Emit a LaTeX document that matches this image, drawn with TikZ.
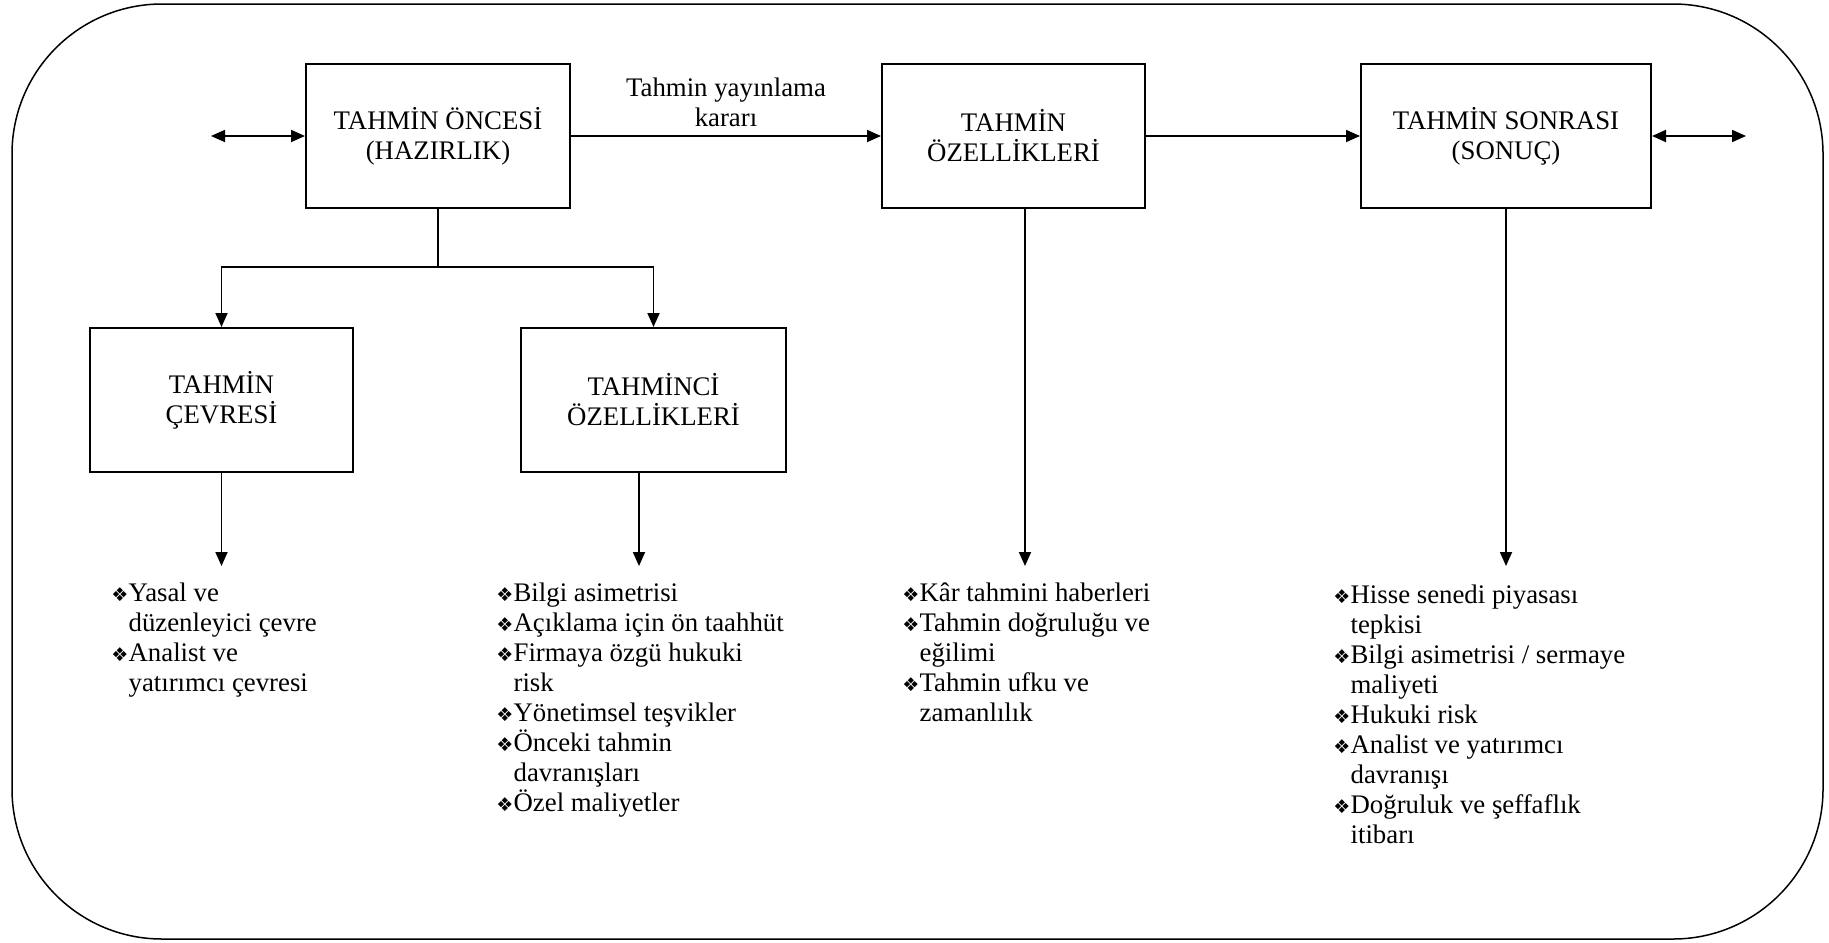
\documentclass[tikz,border=0pt]{standalone}
\usepackage{fontspec}
\setmainfont{Liberation Serif}
\newfontfamily\dejavu{DejaVu Sans}
\usetikzlibrary{arrows.meta}
\newlength{\bw}\setlength{\bw}{8.6pt}
\newcommand{\bl}{\makebox[\bw][l]{\dejavu\fontsize{9.5}{9.5}\selectfont ❖}}
\newcommand{\cl}{\hspace*{\bw}}
\begin{document}
\begin{tikzpicture}[x=0.5pt,y=-0.5pt,font=\fontsize{13.4}{15}\selectfont,
  box/.style={draw,line width=1pt,align=center,inner sep=0,minimum height=72pt},
  arr/.style={line width=0.9pt,-{Triangle[length=7pt,width=6pt]}},
  dbl/.style={line width=0.9pt,{Triangle[length=7pt,width=6pt]}-{Triangle[length=7pt,width=6pt]}},
  lnk/.style={line width=0.9pt},
  lst/.style={anchor=north west,align=left,inner sep=0}]
\useasboundingbox (0,0) rectangle (1829,942);
\draw[line width=0.75pt,rounded corners=75pt] (12,4) rectangle (1823,939);

\node[box,minimum width=132pt] (b1) at (438,136) {TAHMİN ÖNCESİ\\(HAZIRLIK)};
\node[box,minimum width=131.5pt] (b2) at (1013.5,136) {TAHMİN\\ÖZELLİKLERİ};
\node[box,minimum width=145pt] (b3) at (1506,136) {TAHMİN SONRASI\\(SONUÇ)};
\node[box,minimum width=131.5pt] (b4) at (221.5,400) {TAHMİN\\ÇEVRESİ};
\node[box,minimum width=132.5pt] (b5) at (653.5,400) {TAHMİNCİ\\ÖZELLİKLERİ};

\coordinate (lft) at (211,136);
\coordinate (rgt) at (1746,136);
\draw[dbl] (lft) -- (b1.west);
\draw[dbl] (b3.east) -- (rgt);
\draw[arr] (b1.east) -- node[above=1pt,align=center] {Tahmin yayınlama\\kararı} (b2.west);
\draw[arr] (b2.east) -- (b3.west);

\coordinate (j) at (438,267);
\draw[lnk] (b1.south) -- (j);
\draw[arr] (j) -| (b4.north);
\draw[arr] (j) -| (b5.north);

\coordinate (e4) at (221.5,566);
\coordinate (e5) at (639,566);
\coordinate (e2) at (1025,566);
\coordinate (e3) at (1506,566);
\draw[arr] (e4 |- b4.south) -- (e4);
\draw[arr] (e5 |- b5.south) -- (e5);
\draw[arr] (e2 |- b2.south) -- (e2);
\draw[arr] (e3 |- b3.south) -- (e3);

\node[lst] (l1) at (111,582) {\bl Yasal ve\\\cl düzenleyici çevre\\\bl Analist ve\\\cl yatırımcı çevresi};
\node[lst] (l2) at (496,582) {\bl Bilgi asimetrisi\\\bl Açıklama için ön taahhüt\\\bl Firmaya özgü hukuki\\\cl risk\\\bl Yönetimsel teşvikler\\\bl Önceki tahmin\\\cl davranışları\\\bl Özel maliyetler};
\node[lst] (l3) at (902,582) {\bl Kâr tahmini haberleri\\\bl Tahmin doğruluğu ve\\\cl eğilimi\\\bl Tahmin ufku ve\\\cl zamanlılık};
\node[lst] (l4) at (1333,584) {\bl Hisse senedi piyasası\\\cl tepkisi\\\bl Bilgi asimetrisi / sermaye\\\cl maliyeti\\\bl Hukuki risk\\\bl Analist ve yatırımcı\\\cl davranışı\\\bl Doğruluk ve şeffaflık\\\cl itibarı};
\end{tikzpicture}
\end{document}
